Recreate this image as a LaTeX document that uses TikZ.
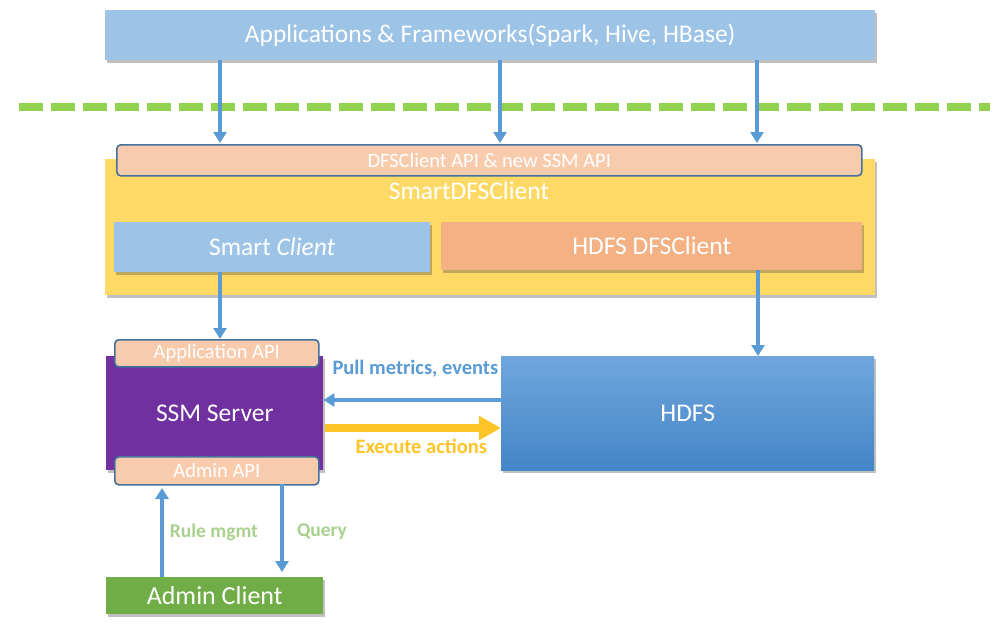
\documentclass[tikz,border=0pt]{standalone}
\usepackage{fontspec}
\setmainfont{Carlito}
\usetikzlibrary{arrows.meta,shadows}
\definecolor{appblue}{HTML}{9DC3E6}
\definecolor{linkblue}{HTML}{5B9BD5}
\definecolor{edgeblue}{HTML}{41719C}
\definecolor{apipeach}{HTML}{F8CBAD}
\definecolor{clientorange}{HTML}{F4B183}
\definecolor{smartyellow}{HTML}{FFD966}
\definecolor{ssmpurple}{HTML}{7030A0}
\definecolor{hdfstop}{HTML}{70A6DC}
\definecolor{hdfsbot}{HTML}{4485C8}
\definecolor{adminGreen}{HTML}{70AD47}
\definecolor{dashgreen}{HTML}{92D050}
\definecolor{labelgreen}{HTML}{A9D18E}
\definecolor{execyellow}{HTML}{FFC527}
\tikzset{
  boxshadow/.style={drop shadow={shadow xshift=2pt,shadow yshift=-3pt,opacity=0.35,fill=black!70}},
  block/.style={boxshadow,inner sep=0pt,anchor=north west,text=white},
  apibox/.style={draw=edgeblue,line width=1.6pt,rounded corners=4pt,fill=apipeach,inner sep=0pt,anchor=north west,text=white},
  flow/.style={draw=linkblue,line width=3.2pt,-{Triangle[length=11pt,width=13pt]}},
  big/.style={font=\fontsize{25.5}{30}\selectfont},
  small/.style={font=\fontsize{20.5}{24}\selectfont},
  tag/.style={font=\fontsize{20.5}{24}\selectfont\bfseries},
}
\begin{document}
\begin{tikzpicture}[x=1pt,y=-1pt]
\useasboundingbox (0,0) rectangle (1008,626);
\fill[white] (0,0) rectangle (1008,626);

% top layer: applications
\node[block,fill=appblue,minimum width=770pt,minimum height=50pt,big] (apps) at (105,10) {Applications \& Frameworks(Spark, Hive, HBase)};

% boundary line
\draw[dashgreen,line width=8pt,dash pattern=on 24pt off 8pt] (19,107) -- (990,107);

% SmartDFSClient container
\node[block,fill=smartyellow,minimum width=770pt,minimum height=136pt] (smart) at (105,159) {};
\node[apibox,minimum width=745pt,minimum height=31pt,small] (dfsapi) at (116,144) {DFSClient API \& new SSM API};
\node[big,text=white] (smartlbl) at (469,191) {SmartDFSClient};
\node[block,fill=appblue,minimum width=316pt,minimum height=50pt,big] (sclient) at (114,222) {Smart \textit{Client}};
\node[block,fill=clientorange,minimum width=421pt,minimum height=48pt,big] (hclient) at (441,222) {HDFS DFSClient};

% SSM server with its two API ports
\node[block,fill=ssmpurple,minimum width=217pt,minimum height=114pt,big] (ssm) at (106,356) {SSM Server};
\node[apibox,minimum width=204pt,minimum height=27pt,small] (appapi) at (114,339) {Application API};
\node[apibox,minimum width=204pt,minimum height=28pt,small] (adminapi) at (114,456) {Admin API};

% HDFS
\node[block,top color=hdfstop,bottom color=hdfsbot,minimum width=373pt,minimum height=114pt,big] (hdfs) at (501,356) {HDFS};

% admin client
\node[block,fill=adminGreen,minimum width=217pt,minimum height=37pt,font=\fontsize{26}{30}\selectfont] (admin) at (106,577) {Admin Client};

% application calls
\draw[flow] (220,60) -- (220,143);
\draw[flow] (500,60) -- (500,143);
\draw[flow] (757,60) -- (757,143);

% client paths
\draw[flow] (220,272) -- (appapi.north -| 220,0);
\draw[flow] (758,270) -- (hdfs.north -| 758,0);

% server <-> HDFS
\draw[flow,line width=3.8pt] (hdfs.west |- 0,400) -- (ssm.east |- 0,400);
\node[tag,text=linkblue,anchor=south west] (pulllbl) at (329,381) {Pull metrics, events};
\draw[execyellow,line width=8pt,-{Triangle[length=22pt,width=23pt]}] (ssm.east |- 0,428) ++(2,0) -- (hdfs.west |- 0,428);
\node[tag,text=execyellow,anchor=north west] (execlbl) at (352,436) {Execute actions};

% admin paths
\draw[flow] (162,577) -- (162,488);
\draw[flow] (282,484) -- (282,572);
\node[tag,text=labelgreen,font=\fontsize{19.5}{23}\selectfont\bfseries] (rulelbl) at (214,532) {Rule mgmt};
\node[tag,text=labelgreen,font=\fontsize{19.5}{23}\selectfont\bfseries] (querylbl) at (322,532) {Query};
\end{tikzpicture}
\end{document}
